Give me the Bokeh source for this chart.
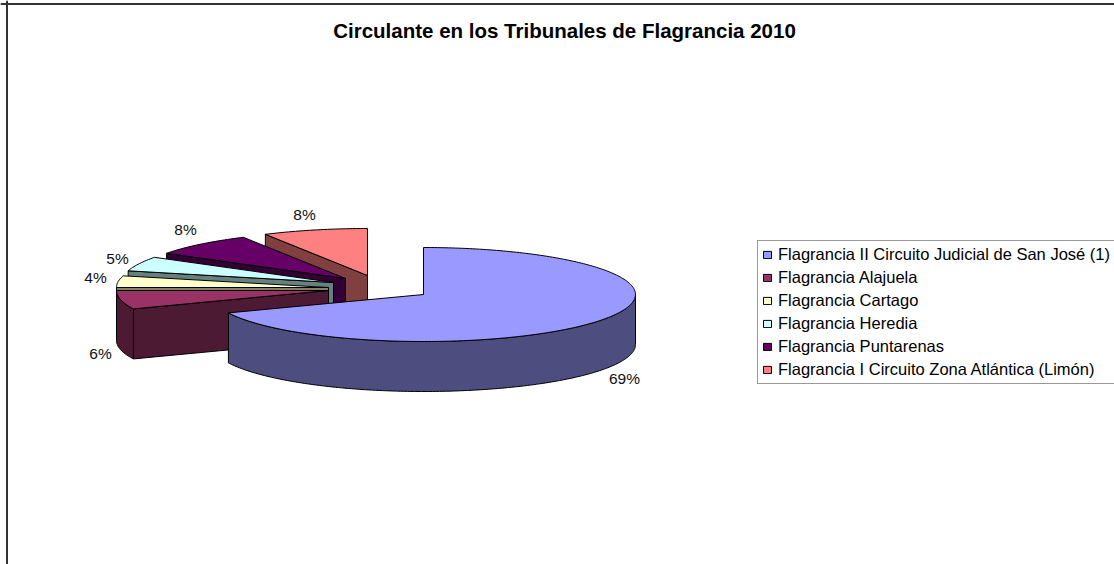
import numpy as np
from bokeh.core.properties import value
from bokeh.embed import file_html
from bokeh.models import Legend, LegendItem, Span
from bokeh.plotting import figure
from bokeh.resources import INLINE

title = "Circulante en los Tribunales de Flagrancia 2010"
categories = [
    "Flagrancia II Circuito Judicial de San José (1)",
    "Flagrancia Alajuela",
    "Flagrancia Cartago",
    "Flagrancia Heredia",
    "Flagrancia Puntarenas",
    "Flagrancia I Circuito Zona Atlántica (Limón)",
]
percent = [68.6, 6.4, 4, 5, 8, 8]
top_colors = ["#9999FF", "#993366", "#FFFFCC", "#CCFFFF", "#660066", "#FF8080"]
side_colors = ["#4D4D80", "#4D1A33", "#808066", "#668080", "#330033", "#804040"]

# pie layout (page pixels)
CX, CY = 423, 294
RX, RY = 212, 47
DEPTH = 50
explode_dx = [0, -95, -95, -90, -78, -56]
explode_dy = [0, -4, -7, -12, -16, -19]
label_x = [624, 100, 95, 117, 185, 304]
label_y = [378, 353, 277, 258, 229, 214]
FONT = "Liberation Sans"

p = figure(width=1114, height=564, x_range=(0, 1114), y_range=(564, 0),
           output_backend="svg", toolbar_location=None, min_border=0,
           outline_line_color=None, background_fill_color="white")
p.axis.visible = False
p.grid.visible = False

for loc, dim in ((6.5, "height"), (3.5, "width")):
    p.add_layout(Span(location=loc, dimension=dim, line_color="#333333", line_width=2))

edges = np.concatenate([[0], np.cumsum(percent)]) / sum(percent) * 2 * np.pi


def arc(a0, a1, cx, cy):
    t = np.linspace(a0, a1, max(2, int(abs(a1 - a0) * 60)))
    return cx + RX * np.sin(t), cy - RY * np.cos(t)


tops = {}
# painter's order: last slice (back) first, largest slice (front) last
for i in range(len(percent) - 1, -1, -1):
    a0, a1 = edges[i], edges[i + 1]
    cx, cy = CX + explode_dx[i], CY + explode_dy[i]
    kw = dict(line_color="black", line_width=1, line_join="round")
    # radial face along the start edge (slices on the back-left only)
    if a0 > np.pi:
        ex, ey = cx + RX * np.sin(a0), cy - RY * np.cos(a0)
        p.patch([ex, cx, cx, ex], [ey, cy, cy + DEPTH, ey + DEPTH],
                fill_color=side_colors[i], **kw)
    # outer wall: the part of the rim on the front half
    w0, w1 = max(a0, np.pi / 2), min(a1, 3 * np.pi / 2)
    if w1 > w0:
        ax, ay = arc(w0, w1, cx, cy)
        p.patch(np.concatenate([ax, ax[::-1]]),
                np.concatenate([ay, ay[::-1] + DEPTH]),
                fill_color=side_colors[i], **kw)
    # top face
    ax, ay = arc(a0, a1, cx, cy)
    tops[i] = p.patch(np.concatenate([[cx], ax]), np.concatenate([[cy], ay]),
                      fill_color=top_colors[i], **kw)

p.text(x=[564], y=[29.5], text=[title], text_font=value(FONT), text_font_style="bold",
       text_font_size="20.5px", text_color="black", text_align="center", text_baseline="middle")
p.text(x=label_x, y=label_y, text=[f"{round(v)}%" for v in percent], text_font=value(FONT),
       text_font_size="15.5px", text_color="#111111", text_align="center", text_baseline="middle")

legend = Legend(
    items=[LegendItem(label=c, renderers=[tops[i]]) for i, c in enumerate(categories)],
    location=(757, 564 - 384), orientation="vertical",
    glyph_width=10, glyph_height=9, label_height=18, label_standoff=6,
    spacing=4, padding=4, margin=0,
    label_text_font=FONT, label_text_font_size="16.5px", label_text_color="black",
    border_line_color="#333333", border_line_width=1, background_fill_alpha=1,
)
p.add_layout(legend, "center")

open("out.html", "w").write(file_html(p, INLINE))
